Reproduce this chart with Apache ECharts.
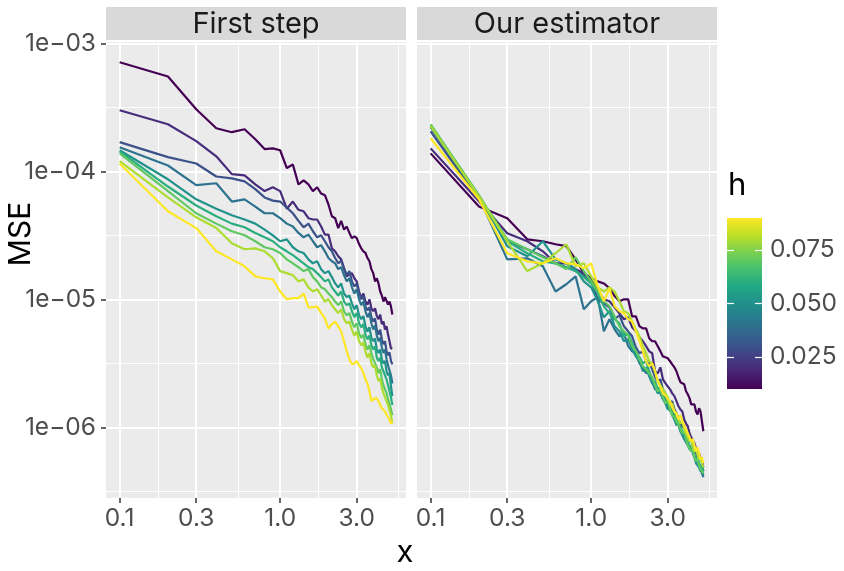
<!DOCTYPE html>
<html>
<head>
<meta charset="utf-8">
<script src="https://cdn.jsdelivr.net/npm/echarts@6.0.0/dist/echarts.min.js"></script>
<style>
  html, body { margin: 0; padding: 0; background: #ffffff; }
  #main { width: 844px; height: 571px; }
</style>
</head>
<body>
<div id="main"></div>
<script>
// x grid of every curve
var xValues = [0.1, 0.2, 0.3, 0.4, 0.5, 0.6, 0.7, 0.8, 0.9, 1.0,
  1.1, 1.2, 1.3, 1.4, 1.5, 1.6, 1.7, 1.8, 1.9, 2.0,
  2.1, 2.2, 2.3, 2.4, 2.5, 2.6, 2.7, 2.8, 2.9, 3.0,
  3.1, 3.2, 3.3, 3.4, 3.5, 3.6, 3.7, 3.8, 3.9, 4.0,
  4.1, 4.2, 4.3, 4.4, 4.5, 4.6, 4.7, 4.8, 4.9, 5.0];
var hValues = [0.01, 0.02, 0.03, 0.04, 0.05, 0.06, 0.07, 0.08, 0.09];
var panelNames = ['First step', 'Our estimator'];

var xTickValues = [0.1, 0.3, 1, 3];
var xTickLabels = ['0.1', '0.3', '1.0', '3.0'];
var xMinorValues = [0.173, 0.548, 1.73, 5.45];
var yTickValues = [1e-3, 1e-4, 1e-5, 1e-6];
var yTickLabels = ['1e\u221203', '1e\u221204', '1e\u221205', '1e\u221206'];
var yMinorValues = [3.16e-4, 3.16e-5, 3.16e-6, 3.16e-7];
var hTickValues = [0.025, 0.05, 0.075];
var hTickLabels = ['0.025', '0.050', '0.075'];

// MSE, first step
var firstStepH01 = [7.1e-4, 5.5e-4, 3.05e-4, 2.17e-4, 2.02e-4, 2.13e-4, 1.78e-4, 1.49e-4, 1.51e-4, 1.46e-4,
  1.06e-4, 1.13e-4, 7.9e-5, 8.5e-5, 7.9e-5, 7.0e-5, 7.5e-5, 6.7e-5, 6.5e-5, 5.5e-5,
  4.45e-5, 4.3e-5, 3.6e-5, 4.1e-5, 3.5e-5, 3.7e-5, 3.3e-5, 3.0e-5, 3.1e-5, 3.0e-5,
  2.7e-5, 2.5e-5, 2.37e-5, 2.3e-5, 2.1e-5, 1.98e-5, 1.72e-5, 1.6e-5, 1.38e-5, 1.46e-5,
  1.33e-5, 1.15e-5, 1.07e-5, 9.6e-6, 1.04e-5, 1.02e-5, 9.1e-6, 9.6e-6, 8.8e-6, 7.6e-6];
var firstStepH02 = [3.0e-4, 2.33e-4, 1.72e-4, 1.31e-4, 9.5e-5, 9.3e-5, 7.9e-5, 7.0e-5, 7.5e-5, 7.0e-5,
  5.1e-5, 5.8e-5, 5.0e-5, 4.87e-5, 4.3e-5, 4.2e-5, 4.2e-5, 3.7e-5, 3.2e-5, 3.2e-5,
  2.5e-5, 2.37e-5, 2.17e-5, 2.05e-5, 1.75e-5, 1.51e-5, 1.57e-5, 1.6e-5, 1.46e-5, 1.38e-5,
  1.15e-5, 1.02e-5, 1.11e-5, 9.6e-6, 9.1e-6, 1.0e-5, 8.5e-6, 8.06e-6, 8.5e-6, 7.4e-6,
  7.0e-6, 7.6e-6, 6.4e-6, 6.7e-6, 5.8e-6, 6.15e-6, 5.3e-6, 4.7e-6, 4.15e-6, 4.1e-6];
var firstStepH03 = [1.69e-4, 1.29e-4, 1.15e-4, 9.1e-5, 8.8e-5, 8.35e-5, 7.25e-5, 6.25e-5, 5.9e-5, 5.8e-5,
  5.2e-5, 4.7e-5, 4.1e-5, 3.65e-5, 3.9e-5, 3.4e-5, 3.05e-5, 3.16e-5, 2.84e-5, 2.55e-5,
  2.37e-5, 2.1e-5, 1.91e-5, 2.0e-5, 1.72e-5, 1.54e-5, 1.66e-5, 1.38e-5, 1.26e-5, 1.33e-5,
  1.11e-5, 1.0e-5, 1.06e-5, 8.8e-6, 8.2e-6, 8.66e-6, 7.25e-6, 6.7e-6, 7.1e-6, 5.8e-6,
  5.3e-6, 5.8e-6, 4.87e-6, 4.45e-6, 4.7e-6, 3.92e-6, 3.65e-6, 3.85e-6, 3.3e-6, 3.1e-6];
var firstStepH04 = [1.54e-4, 1.11e-4, 7.8e-5, 8.06e-5, 5.8e-5, 6.04e-5, 5.3e-5, 4.7e-5, 4.7e-5, 4.3e-5,
  3.9e-5, 3.7e-5, 3.3e-5, 3.05e-5, 3.2e-5, 2.84e-5, 2.55e-5, 2.65e-5, 2.37e-5, 2.1e-5,
  1.98e-5, 1.91e-5, 1.72e-5, 1.78e-5, 1.54e-5, 1.38e-5, 1.46e-5, 1.24e-5, 1.11e-5, 1.2e-5,
  1.0e-5, 9.0e-6, 9.6e-6, 8.06e-6, 7.25e-6, 7.8e-6, 6.5e-6, 5.8e-6, 6.25e-6, 5.2e-6,
  4.7e-6, 5.0e-6, 4.2e-6, 3.8e-6, 4.05e-6, 3.4e-6, 3.05e-6, 3.16e-6, 2.55e-6, 2.2e-6];
var firstStepH05 = [1.46e-4, 8.66e-5, 6.04e-5, 5.1e-5, 4.53e-5, 4.2e-5, 3.9e-5, 3.5e-5, 3.16e-5, 2.84e-5,
  2.94e-5, 2.55e-5, 2.37e-5, 2.3e-5, 2.05e-5, 1.91e-5, 1.98e-5, 1.72e-5, 1.6e-5, 1.66e-5,
  1.49e-5, 1.33e-5, 1.24e-5, 1.33e-5, 1.11e-5, 1.04e-5, 1.07e-5, 9.3e-6, 8.35e-6, 9.0e-6,
  7.5e-6, 7.0e-6, 7.4e-6, 6.15e-6, 5.6e-6, 6.04e-6, 5.0e-6, 4.7e-6, 4.95e-6, 4.05e-6,
  3.8e-6, 4.05e-6, 3.4e-6, 3.16e-6, 3.3e-6, 2.74e-6, 2.55e-6, 2.65e-6, 2.1e-6, 1.75e-6];
var firstStepH06 = [1.43e-4, 7.6e-5, 5.4e-5, 4.45e-5, 3.9e-5, 3.65e-5, 3.3e-5, 3.05e-5, 2.84e-5, 2.55e-5,
  2.37e-5, 2.21e-5, 2.05e-5, 1.91e-5, 1.78e-5, 1.72e-5, 1.6e-5, 1.49e-5, 1.38e-5, 1.43e-5,
  1.24e-5, 1.15e-5, 1.07e-5, 1.15e-5, 9.6e-6, 9.0e-6, 9.3e-6, 8.06e-6, 7.25e-6, 7.8e-6,
  6.5e-6, 6.04e-6, 6.4e-6, 5.3e-6, 4.87e-6, 5.2e-6, 4.37e-6, 4.05e-6, 4.3e-6, 3.5e-6,
  3.3e-6, 3.5e-6, 2.94e-6, 2.74e-6, 2.84e-6, 2.37e-6, 2.13e-6, 2.2e-6, 1.72e-6, 1.49e-6];
var firstStepH07 = [1.38e-4, 7.0e-5, 4.7e-5, 3.9e-5, 3.4e-5, 3.16e-5, 2.84e-5, 2.55e-5, 2.46e-5, 2.3e-5,
  2.05e-5, 1.91e-5, 1.78e-5, 1.66e-5, 1.72e-5, 1.49e-5, 1.38e-5, 1.24e-5, 1.2e-5, 1.11e-5,
  1.04e-5, 9.6e-6, 9.0e-6, 9.6e-6, 8.06e-6, 7.5e-6, 7.8e-6, 6.7e-6, 6.04e-6, 6.5e-6,
  5.4e-6, 5.0e-6, 5.3e-6, 4.45e-6, 4.05e-6, 4.37e-6, 3.8e-6, 3.4e-6, 3.5e-6, 2.94e-6,
  2.65e-6, 2.84e-6, 2.37e-6, 2.13e-6, 2.2e-6, 1.85e-6, 1.66e-6, 1.72e-6, 1.38e-6, 1.24e-6];
var firstStepH08 = [1.2e-4, 6.25e-5, 4.37e-5, 3.6e-5, 2.74e-5, 2.46e-5, 2.5e-5, 2.37e-5, 2.1e-5, 1.66e-5,
  1.6e-5, 1.54e-5, 1.38e-5, 1.43e-5, 1.24e-5, 1.15e-5, 1.2e-5, 1.07e-5, 9.6e-6, 1.0e-5,
  9.0e-6, 8.35e-6, 7.8e-6, 8.35e-6, 7.0e-6, 6.5e-6, 6.7e-6, 5.8e-6, 5.2e-6, 5.6e-6,
  4.7e-6, 4.37e-6, 4.6e-6, 3.92e-6, 3.5e-6, 3.8e-6, 3.16e-6, 2.94e-6, 3.05e-6, 2.55e-6,
  2.3e-6, 2.4e-6, 2.05e-6, 1.85e-6, 1.91e-6, 1.6e-6, 1.49e-6, 1.54e-6, 1.24e-6, 1.07e-6];
var firstStepH09 = [1.15e-4, 4.87e-5, 3.6e-5, 2.37e-5, 2.05e-5, 1.81e-5, 1.51e-5, 1.46e-5, 1.43e-5, 1.15e-5,
  1.0e-5, 1.02e-5, 1.02e-5, 1.11e-5, 8.66e-6, 8.66e-6, 8.8e-6, 7.8e-6, 7.1e-6, 5.9e-6,
  6.4e-6, 6.7e-6, 6.15e-6, 5.6e-6, 4.7e-6, 3.92e-6, 3.4e-6, 3.1e-6, 3.16e-6, 3.3e-6,
  3.05e-6, 2.9e-6, 2.65e-6, 2.37e-6, 2.2e-6, 1.91e-6, 1.6e-6, 1.66e-6, 1.72e-6, 1.69e-6,
  1.6e-6, 1.49e-6, 1.41e-6, 1.38e-6, 1.33e-6, 1.26e-6, 1.2e-6, 1.15e-6, 1.07e-6, 1.12e-6];

// MSE, our estimator
var estimatorH01 = [1.38e-4, 5.3e-5, 4.3e-5, 2.94e-5, 2.84e-5, 2.69e-5, 2.6e-5, 2.05e-5, 1.6e-5, 1.46e-5,
  1.38e-5, 1.33e-5, 1.22e-5, 1.06e-5, 9.65e-6, 1.0e-5, 1.0e-5, 7.35e-6, 7.35e-6, 6.15e-6,
  5.93e-6, 5.93e-6, 4.96e-6, 4.7e-6, 4.7e-6, 4.3e-6, 3.92e-6, 3.58e-6, 3.52e-6, 3.46e-6,
  3.28e-6, 3.1e-6, 2.94e-6, 2.74e-6, 2.46e-6, 2.25e-6, 2.21e-6, 2.17e-6, 1.91e-6, 1.81e-6,
  1.69e-6, 1.51e-6, 1.49e-6, 1.51e-6, 1.33e-6, 1.26e-6, 1.41e-6, 1.33e-6, 1.11e-6, 9.31e-7];
var estimatorH02 = [1.51e-4, 5.83e-5, 3.28e-5, 2.84e-5, 2.37e-5, 1.91e-5, 1.91e-5, 1.72e-5, 1.6e-5, 1.43e-5,
  1.15e-5, 1.0e-5, 9.65e-6, 8.66e-6, 7.77e-6, 6.98e-6, 7.23e-6, 6.04e-6, 5.62e-6, 5.05e-6,
  4.7e-6, 4.3e-6, 3.92e-6, 3.79e-6, 2.74e-6, 2.64e-6, 2.94e-6, 2.37e-6, 2.21e-6, 2.09e-6,
  1.98e-6, 1.84e-6, 1.75e-6, 1.6e-6, 1.46e-6, 1.38e-6, 1.33e-6, 1.15e-6, 1.07e-6, 1.02e-6,
  8.98e-7, 8.35e-7, 8.06e-7, 7.5e-7, 6.85e-7, 6.49e-7, 6.26e-7, 5.83e-7, 5.42e-7, 4.87e-7];
var estimatorH03 = [2.05e-4, 6.04e-5, 2.84e-5, 2.46e-5, 2.17e-5, 1.91e-5, 1.78e-5, 1.66e-5, 1.54e-5, 1.38e-5,
  1.0e-5, 9.31e-6, 8.66e-6, 6.98e-6, 7.5e-6, 6.15e-6, 5.62e-6, 5.14e-6, 4.22e-6, 3.79e-6,
  3.92e-6, 3.28e-6, 3.16e-6, 2.84e-6, 2.46e-6, 2.29e-6, 2.37e-6, 1.98e-6, 1.84e-6, 1.66e-6,
  1.54e-6, 1.6e-6, 1.38e-6, 1.29e-6, 1.15e-6, 1.11e-6, 1.0e-6, 1.04e-6, 9.31e-7, 8.35e-7,
  7.77e-7, 8.06e-7, 6.98e-7, 6.26e-7, 6.49e-7, 5.62e-7, 5.23e-7, 4.87e-7, 5.05e-7, 4.53e-7];
var estimatorH04 = [2.21e-4, 6.26e-5, 2.05e-5, 2.09e-5, 1.81e-5, 1.15e-5, 1.31e-5, 1.51e-5, 8.35e-6, 9.65e-6,
  1.04e-5, 5.62e-6, 6.98e-6, 5.83e-6, 5.14e-6, 5.42e-6, 4.3e-6, 3.92e-6, 3.79e-6, 3.16e-6,
  2.94e-6, 2.64e-6, 2.74e-6, 2.29e-6, 1.98e-6, 2.05e-6, 1.84e-6, 1.66e-6, 1.72e-6, 1.46e-6,
  1.33e-6, 1.43e-6, 1.22e-6, 1.11e-6, 1.04e-6, 9.31e-7, 9.65e-7, 8.66e-7, 8.06e-7, 7.5e-7,
  6.98e-7, 6.49e-7, 6.73e-7, 5.93e-7, 5.42e-7, 5.62e-7, 4.96e-7, 4.7e-7, 4.37e-7, 4.07e-7];
var estimatorH05 = [2.29e-4, 6.49e-5, 2.6e-5, 2.17e-5, 2.84e-5, 2.05e-5, 1.91e-5, 1.72e-5, 1.38e-5, 1.24e-5,
  9.65e-6, 7.23e-6, 8.06e-6, 6.15e-6, 5.62e-6, 4.7e-6, 4.87e-6, 4.07e-6, 3.58e-6, 3.28e-6,
  2.74e-6, 2.94e-6, 2.5e-6, 2.21e-6, 2.05e-6, 1.84e-6, 1.91e-6, 1.66e-6, 1.54e-6, 1.38e-6,
  1.43e-6, 1.24e-6, 1.15e-6, 1.04e-6, 1.07e-6, 9.31e-7, 8.66e-7, 8.06e-7, 8.35e-7, 7.23e-7,
  6.73e-7, 6.98e-7, 6.26e-7, 5.83e-7, 5.23e-7, 5.42e-7, 4.87e-7, 4.53e-7, 4.7e-7, 4.22e-7];
var estimatorH06 = [2.29e-4, 6.37e-5, 2.84e-5, 2.29e-5, 1.98e-5, 1.91e-5, 1.78e-5, 1.66e-5, 1.49e-5, 1.33e-5,
  1.11e-5, 8.82e-6, 7.77e-6, 6.98e-6, 6.49e-6, 5.14e-6, 5.42e-6, 4.53e-6, 3.92e-6, 3.52e-6,
  3.16e-6, 3.28e-6, 2.74e-6, 2.37e-6, 2.29e-6, 1.98e-6, 2.05e-6, 1.78e-6, 1.6e-6, 1.66e-6,
  1.43e-6, 1.29e-6, 1.33e-6, 1.15e-6, 1.07e-6, 1.0e-6, 9.31e-7, 9.65e-7, 8.35e-7, 7.77e-7,
  7.23e-7, 6.73e-7, 6.98e-7, 6.04e-7, 5.62e-7, 5.83e-7, 5.23e-7, 4.87e-7, 5.05e-7, 4.53e-7];
var estimatorH07 = [2.33e-4, 6.49e-5, 2.94e-5, 2.46e-5, 2.13e-5, 1.91e-5, 1.72e-5, 2.13e-5, 1.66e-5, 1.38e-5,
  1.15e-5, 9.65e-6, 8.82e-6, 7.35e-6, 6.15e-6, 5.62e-6, 5.23e-6, 4.3e-6, 3.92e-6, 3.4e-6,
  3.0e-6, 2.84e-6, 2.64e-6, 2.46e-6, 2.13e-6, 1.91e-6, 1.98e-6, 1.72e-6, 1.54e-6, 1.6e-6,
  1.38e-6, 1.24e-6, 1.2e-6, 1.11e-6, 1.04e-6, 9.65e-7, 8.98e-7, 9.31e-7, 8.06e-7, 7.23e-7,
  6.98e-7, 6.49e-7, 6.73e-7, 5.83e-7, 5.42e-7, 5.62e-7, 5.05e-7, 4.7e-7, 4.53e-7, 4.37e-7];
var estimatorH08 = [2.25e-4, 6.37e-5, 2.84e-5, 1.66e-5, 1.91e-5, 2.29e-5, 2.69e-5, 1.81e-5, 1.91e-5, 1.51e-5,
  1.24e-5, 1.15e-5, 1.24e-5, 1.15e-5, 9.65e-6, 8.06e-6, 7.77e-6, 6.73e-6, 5.83e-6, 5.14e-6,
  4.3e-6, 3.79e-6, 3.28e-6, 3.16e-6, 2.74e-6, 2.29e-6, 2.13e-6, 1.98e-6, 1.84e-6, 1.72e-6,
  1.49e-6, 1.54e-6, 1.33e-6, 1.24e-6, 1.15e-6, 1.07e-6, 1.11e-6, 9.65e-7, 8.98e-7, 8.35e-7,
  7.77e-7, 8.06e-7, 6.98e-7, 6.49e-7, 6.73e-7, 6.04e-7, 5.62e-7, 5.83e-7, 5.23e-7, 4.87e-7];
var estimatorH09 = [1.81e-4, 6.04e-5, 2.29e-5, 1.98e-5, 1.91e-5, 2.09e-5, 1.91e-5, 1.88e-5, 1.75e-5, 1.91e-5,
  1.26e-5, 9.65e-6, 1.22e-5, 8.82e-6, 8.06e-6, 7.77e-6, 6.98e-6, 6.73e-6, 5.62e-6, 4.7e-6,
  3.92e-6, 3.28e-6, 3.0e-6, 3.16e-6, 2.74e-6, 2.29e-6, 2.05e-6, 1.84e-6, 1.78e-6, 1.66e-6,
  1.6e-6, 1.43e-6, 1.33e-6, 1.29e-6, 1.15e-6, 1.24e-6, 1.11e-6, 1.04e-6, 9.65e-7, 8.98e-7,
  8.35e-7, 7.77e-7, 8.06e-7, 7.23e-7, 6.49e-7, 6.98e-7, 6.26e-7, 5.62e-7, 5.83e-7, 5.23e-7];

var firstStep = [firstStepH01, firstStepH02, firstStepH03, firstStepH04, firstStepH05,
  firstStepH06, firstStepH07, firstStepH08, firstStepH09];
var estimator = [estimatorH01, estimatorH02, estimatorH03, estimatorH04, estimatorH05,
  estimatorH06, estimatorH07, estimatorH08, estimatorH09];
var panelData = [firstStep, estimator];

// layout
var FONT = 'Inter';
var TICK_SIZE = 24.5;
var panelLeft = [106, 417];
var panelTop = 42, panelW = 300, panelH = 456;
var stripTop = 7, stripH = 33;
var xMinLog = -1.085, xMaxLog = 0.784;
var yMinLog = -6.5525, yMaxLog = -2.99;

var viridisStops = ['#440154', '#482475', '#414487', '#355F8D', '#2A788E', '#21918C',
  '#22A884', '#44BF70', '#7AD151', '#BDDF26', '#FDE725'];

function lg(v) { return Math.log10(v); }

function hexToRgb(hex) {
  var n = parseInt(hex.slice(1), 16);
  return [(n >> 16) & 255, (n >> 8) & 255, n & 255];
}
function viridis(t) {
  t = Math.max(0, Math.min(1, t));
  var pos = t * (viridisStops.length - 1);
  var i = Math.min(Math.floor(pos), viridisStops.length - 2);
  var f = pos - i;
  var a = hexToRgb(viridisStops[i]), b = hexToRgb(viridisStops[i + 1]);
  var c = a.map(function (v, k) { return Math.round(v + (b[k] - v) * f); });
  return 'rgb(' + c.join(',') + ')';
}

function labelFor(values, labels, useLog) {
  return function (v) {
    for (var i = 0; i < values.length; i++) {
      var ref = useLog ? lg(values[i]) : values[i];
      if (Math.abs(ref - v) < 1e-6) return labels[i];
    }
    return '';
  };
}

var hMin = hValues[0], hMax = hValues[hValues.length - 1];

var grids = [], xAxes = [], yAxes = [], series = [];

panelLeft.forEach(function (left, p) {
  grids.push({
    left: left, top: panelTop, width: panelW, height: panelH,
    show: true, backgroundColor: '#EBEBEB', borderWidth: 0
  });
  // major x
  xAxes.push({
    type: 'value', gridIndex: p, min: xMinLog, max: xMaxLog, position: 'bottom',
    axisLine: { show: false, onZero: false },
    axisTick: { show: true, length: 5, lineStyle: { color: '#333333', width: 1.5 },
      customValues: xTickValues.map(lg) },
    axisLabel: { customValues: xTickValues.map(lg), formatter: labelFor(xTickValues, xTickLabels, true),
      color: '#4D4D4D', fontSize: TICK_SIZE, fontFamily: FONT, margin: 8 },
    splitLine: { show: true, lineStyle: { color: '#FFFFFF', width: 2 } }
  });
  // minor x
  xAxes.push({
    type: 'value', gridIndex: p, min: xMinLog, max: xMaxLog, position: 'top',
    axisLine: { show: false, onZero: false },
    axisTick: { show: false, customValues: xMinorValues.map(lg) },
    axisLabel: { show: false },
    splitLine: { show: true, lineStyle: { color: '#FFFFFF', width: 1 } }
  });
  // major y
  yAxes.push({
    type: 'value', gridIndex: p, min: yMinLog, max: yMaxLog, position: 'left',
    axisLine: { show: false, onZero: false },
    axisTick: { show: p === 0, length: 5, lineStyle: { color: '#333333', width: 1.5 },
      customValues: yTickValues.map(lg) },
    axisLabel: { show: p === 0, customValues: yTickValues.map(lg), formatter: labelFor(yTickValues, yTickLabels, true),
      color: '#4D4D4D', fontSize: TICK_SIZE, fontFamily: FONT, margin: 10 },
    splitLine: { show: true, lineStyle: { color: '#FFFFFF', width: 2 } }
  });
  // minor y
  yAxes.push({
    type: 'value', gridIndex: p, min: yMinLog, max: yMaxLog, position: 'right',
    axisLine: { show: false, onZero: false },
    axisTick: { show: false, customValues: yMinorValues.map(lg) },
    axisLabel: { show: false },
    splitLine: { show: true, lineStyle: { color: '#FFFFFF', width: 1 } }
  });

  panelData[p].forEach(function (vals, i) {
    var col = viridis((hValues[i] - hMin) / (hMax - hMin));
    series.push({
      type: 'line', name: 'h = ' + hValues[i],
      xAxisIndex: p * 2, yAxisIndex: p * 2,
      data: xValues.map(function (x, k) { return [lg(x), lg(vals[k])]; }),
      symbol: 'none', showSymbol: false, silent: true,
      lineStyle: { color: col, width: 2.2 }, itemStyle: { color: col },
      z: 2 + i
    });
  });
});

// colour bar for h
grids.push({ left: 727, top: 218, width: 35, height: 171, show: false });
xAxes.push({ type: 'value', gridIndex: 2, min: 0, max: 1, show: false });
yAxes.push({
  type: 'value', gridIndex: 2, min: hMin, max: hMax, position: 'left', z: 10,
  axisLine: { show: false, onZero: false }, splitLine: { show: false }, axisLabel: { show: false },
  axisTick: { show: true, inside: true, length: 7, lineStyle: { color: '#FFFFFF', width: 1.2 },
    customValues: hTickValues }
});
yAxes.push({
  type: 'value', gridIndex: 2, min: hMin, max: hMax, position: 'right', z: 10,
  axisLine: { show: false, onZero: false }, splitLine: { show: false },
  axisTick: { show: true, inside: true, length: 7, lineStyle: { color: '#FFFFFF', width: 1.2 },
    customValues: hTickValues },
  axisLabel: { customValues: hTickValues, formatter: labelFor(hTickValues, hTickLabels, false),
    color: '#4D4D4D', fontSize: TICK_SIZE, fontFamily: FONT, margin: 8 }
});
var gradStops = viridisStops.map(function (c, i) {
  return { offset: i / (viridisStops.length - 1), color: c };
});
series.push({
  type: 'custom', xAxisIndex: 4, yAxisIndex: 4, silent: true, z: 1,
  data: [[0, hMin, 1, hMax]],
  renderItem: function (params, api) {
    var p0 = api.coord([api.value(0), api.value(1)]);
    var p1 = api.coord([api.value(2), api.value(3)]);
    return {
      type: 'rect',
      shape: { x: p0[0], y: p1[1], width: p1[0] - p0[0], height: p0[1] - p1[1] },
      style: { fill: new echarts.graphic.LinearGradient(0, 1, 0, 0, gradStops) }
    };
  }
});

var graphics = [];
panelLeft.forEach(function (left, p) {
  graphics.push({
    type: 'rect', x: left, y: stripTop, silent: true,
    shape: { width: panelW, height: stripH }, style: { fill: '#D9D9D9' }
  });
  graphics.push({
    type: 'text', x: left + panelW / 2, y: stripTop + stripH / 2 + 1, silent: true,
    style: { text: panelNames[p], fill: '#1A1A1A', fontSize: 29, fontFamily: FONT,
      align: 'center', verticalAlign: 'middle', textAlign: 'center', textVerticalAlign: 'middle' }
  });
});
graphics.push({
  type: 'text', x: 21, y: 234, rotation: Math.PI / 2, silent: true,
  style: { text: 'MSE', fill: '#000000', fontSize: 30, fontFamily: FONT,
    align: 'center', verticalAlign: 'middle', textAlign: 'center', textVerticalAlign: 'middle' }
});
graphics.push({
  type: 'text', x: 405, y: 553, silent: true,
  style: { text: 'x', fill: '#000000', fontSize: 31, fontFamily: FONT,
    align: 'center', verticalAlign: 'middle', textAlign: 'center', textVerticalAlign: 'middle' }
});
graphics.push({
  type: 'text', x: 728, y: 186, silent: true,
  style: { text: 'h', fill: '#000000', fontSize: 31, fontFamily: FONT,
    align: 'left', verticalAlign: 'middle', textAlign: 'left', textVerticalAlign: 'middle' }
});

var myChart = echarts.init(document.getElementById('main'), null, { renderer: 'canvas' });
myChart.setOption({
  animation: false,
  backgroundColor: '#FFFFFF',
  grid: grids,
  xAxis: xAxes,
  yAxis: yAxes,
  series: series,
  graphic: graphics
});
</script>
</body>
</html>
